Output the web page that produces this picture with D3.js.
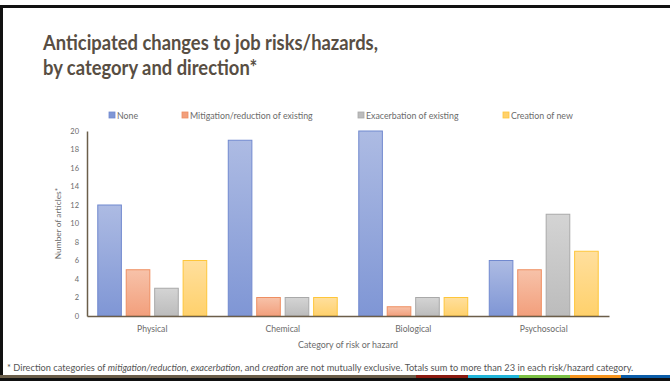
<!DOCTYPE html>
<html>
<head>
<meta charset="utf-8">
<script src="https://cdn.jsdelivr.net/npm/d3@7"></script>
<style>
  body { margin: 0; background: #fff; }
  svg { display: block; }
</style>
</head>
<body>
<script>
let width = 670;
let height = 381;

var categories = ['Physical', 'Chemical', 'Biological', 'Psychosocial'];
var seriesNames = ['None', 'Mitigation/reduction of existing', 'Exacerbation of existing', 'Creation of new'];
var noneVals = [12, 19, 20, 6];
var mitigationVals = [5, 2, 1, 5];
var exacerbationVals = [3, 2, 2, 11];
var creationVals = [6, 2, 2, 7];
var yTicks = [0, 2, 4, 6, 8, 10, 12, 14, 16, 18, 20];

var seriesVals = [noneVals, mitigationVals, exacerbationVals, creationVals];
// top colour, bottom colour, outline
var seriesColors = [
  ['#adbbe3', '#7f96d5', '#7189cf'],
  ['#f7c2a9', '#f29f7c', '#ee8e62'],
  ['#d4d4d4', '#bcbcbc', '#a9a9a9'],
  ['#ffdf9d', '#ffd16c', '#fec63a']
];
var stripeColors = ['#6b5e4a', '#8b1a10', '#1fb4d8', '#7bc043', '#f7941d', '#0a5ca8'];
var stripeEnds = [416, 468, 519, 570, 621, 670];

var svg = d3.select('body')
            .append('svg')
            .attr('width', width)
            .attr('height', height);

// shrink/grow a text's font so it spans the width seen in the slide
function fitWidth(sel, target) {
  var fs = parseFloat(sel.attr('font-size'));
  var w = sel.node().getComputedTextLength();
  if (w > 0) sel.attr('font-size', fs * target / w);
}

var defs = svg.append('defs');
seriesColors.forEach(function(c, i) {
  var g = defs.append('linearGradient').attr('id', 'grad' + i)
      .attr('x1', 0).attr('y1', 0).attr('x2', 0).attr('y2', 1);
  g.append('stop').attr('offset', '0%').attr('stop-color', c[0]);
  g.append('stop').attr('offset', '100%').attr('stop-color', c[1]);
});

// frame
svg.append('rect').attr('x', 0).attr('y', 5).attr('width', width).attr('height', 3).attr('fill', '#111');
svg.append('rect').attr('x', 0).attr('y', 5).attr('width', 3).attr('height', height - 5).attr('fill', '#111');
svg.append('rect').attr('x', 0).attr('y', 378).attr('width', width).attr('height', 3).attr('fill', '#111');
var prev = 0;
stripeEnds.forEach(function(e, i) {
  svg.append('rect').attr('x', prev).attr('y', 375).attr('width', e - prev).attr('height', 3).attr('fill', stripeColors[i]);
  prev = e;
});

// title: tall glyphs squeezed to the slide's narrow (Calibri-like) width
var t1 = svg.append('text').attr('x', 43).attr('y', 50)
    .attr('font-family', 'Lato, sans-serif').attr('font-weight', 'bold')
    .attr('font-size', 20.5).attr('fill', '#584e43').text('Anticipated changes to job risks/hazards,');
var t2 = svg.append('text').attr('x', 43).attr('y', 75)
    .attr('font-family', 'Lato, sans-serif').attr('font-weight', 'bold')
    .attr('font-size', 20.5).attr('fill', '#584e43').text('by category and direction*');
var squeeze = 335 / t1.node().getComputedTextLength();
var w2 = t2.node().getComputedTextLength();
t1.attr('textLength', 335).attr('lengthAdjust', 'spacingAndGlyphs');
t2.attr('textLength', w2 * squeeze).attr('lengthAdjust', 'spacingAndGlyphs');

let plotLeft = 87, plotRight = 609, plotTop = 131, plotBottom = 316;

var x0 = d3.scaleBand().domain(categories).range([plotLeft, plotRight])
    .paddingInner(0.165).paddingOuter(0.0825);
var x1 = d3.scaleBand().domain(d3.range(4)).range([0, x0.bandwidth()]).paddingInner(0.17);
var y = d3.scaleLinear().domain([0, 20]).range([plotBottom, plotTop]);

// bars
categories.forEach(function(cat, ci) {
  seriesVals.forEach(function(vals, si) {
    svg.append('rect')
      .attr('x', x0(cat) + x1(si))
      .attr('y', y(vals[ci]))
      .attr('width', x1.bandwidth())
      .attr('height', y(0) - y(vals[ci]))
      .attr('fill', 'url(#grad' + si + ')')
      .attr('stroke', seriesColors[si][2])
      .attr('stroke-width', 1);
  });
});

// y axis
var yAxis = svg.append('g').attr('transform', 'translate(' + plotLeft + ',0)')
    .call(d3.axisLeft(y).tickValues(yTicks).tickSize(0).tickPadding(8));
yAxis.select('.domain').attr('stroke', '#6b5e4a').attr('stroke-width', 1.5);
yAxis.selectAll('text').attr('font-family', 'Lato, sans-serif').attr('font-size', 7.5).attr('fill', '#6b6b6b');

// x axis
var xAxis = svg.append('g').attr('transform', 'translate(0,' + plotBottom + ')')
    .call(d3.axisBottom(x0).tickSize(0).tickPadding(10).tickSizeOuter(0));
xAxis.select('.domain').attr('stroke', '#6b5e4a').attr('stroke-width', 1.5);
xAxis.selectAll('text').attr('font-family', 'Lato, sans-serif').attr('font-size', 8.6).attr('fill', '#6b6b6b');

// axis titles
svg.append('text').attr('transform', 'translate(61,' + ((plotTop + plotBottom) / 2) + ') rotate(-90)')
    .attr('text-anchor', 'middle').attr('font-family', 'Lato, sans-serif').attr('font-size', 8.4)
    .attr('fill', '#6b6b6b').text('Number of articles*');
var xTitle = svg.append('text').attr('x', (plotLeft + plotRight) / 2).attr('y', 348)
    .attr('text-anchor', 'middle').attr('font-family', 'Lato, sans-serif').attr('font-size', 8)
    .attr('fill', '#6b6b6b').text('Category of risk or hazard');
fitWidth(xTitle, 100);

// legend
var legendX = [109, 182, 358, 503];
seriesNames.forEach(function(name, i) {
  svg.append('rect').attr('x', legendX[i]).attr('y', 112).attr('width', 6).attr('height', 6)
    .attr('fill', seriesColors[i][1]).attr('stroke', seriesColors[i][2]).attr('stroke-width', 0.8);
  svg.append('text').attr('x', legendX[i] + 8).attr('y', 118.5)
    .attr('font-family', 'Lato, sans-serif').attr('font-size', 8.8).attr('fill', '#6b6b6b').text(name);
});

// footnote
var foot = svg.append('text').attr('x', 7).attr('y', 371)
    .attr('font-family', 'Lato, sans-serif').attr('font-size', 9).attr('fill', '#555');
var parts = [
  ['* Direction categories of ', false],
  ['mitigation/reduction, exacerbation', true],
  [', and ', false],
  ['creation', true],
  [' are not mutually exclusive. Totals sum to more than 23 in each risk/hazard category.', false]
];
parts.forEach(function(p) {
  foot.append('tspan').attr('font-style', p[1] ? 'italic' : 'normal').text(p[0]);
});
fitWidth(foot, 627);
</script>
</body>
</html>
